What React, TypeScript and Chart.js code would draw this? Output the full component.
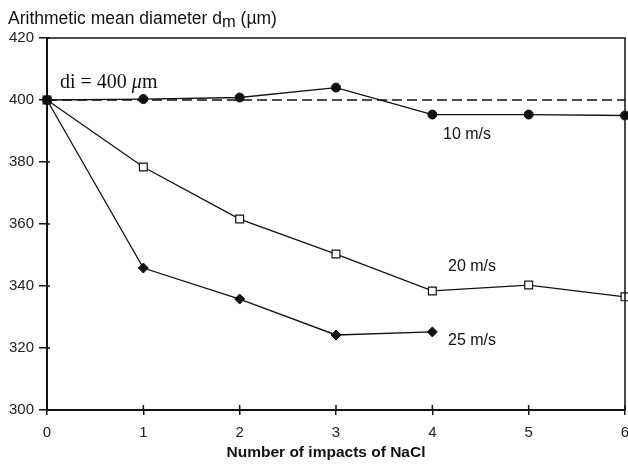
import React, { useEffect, useRef } from "react";
import { Chart, registerables } from "chart.js";

Chart.register(...registerables);

const impacts = [0, 1, 2, 3, 4, 5, 6];
const v10 = [400, 400.3, 400.8, 404, 395.3, 395.3, 395];
const v20 = [400, 378.4, 361.6, 350.3, 338.4, 340.3, 336.5];
const v25 = [400, 345.8, 335.8, 324.2, 325.2];
const diLine = [400, 400];
const diX = [0, 6];
const yTicks = [300, 320, 340, 360, 380, 400, 420];
const xTicks = [0, 1, 2, 3, 4, 5, 6];

const SANS = "'Liberation Sans', Arial, sans-serif";
const SERIF = "'Liberation Serif', 'Times New Roman', serif";

const toPts = (xs: number[], ys: number[]) => ys.map((y, i) => ({ x: xs[i], y }));

const overlay = {
  id: "overlay",
  afterDraw(chart: any) {
    const { ctx, chartArea: a, scales } = chart;
    const xs = scales.x;
    const ys = scales.y;
    ctx.save();
    ctx.strokeStyle = "#111";
    ctx.lineWidth = 1.5;
    ctx.beginPath();
    ctx.moveTo(a.left, a.top);
    ctx.lineTo(a.right, a.top);
    ctx.lineTo(a.right, a.bottom);
    ctx.stroke();
    ctx.beginPath();
    yTicks.forEach((t) => {
      const py = ys.getPixelForValue(t);
      ctx.moveTo(a.left, py);
      ctx.lineTo(a.left + 3, py);
    });
    xTicks.forEach((t) => {
      const px = xs.getPixelForValue(t);
      ctx.moveTo(px, a.bottom);
      ctx.lineTo(px, a.bottom - 5);
    });
    ctx.stroke();

    ctx.fillStyle = "#111";
    ctx.textBaseline = "alphabetic";
    ctx.textAlign = "left";
    ctx.font = `17.5px ${SANS}`;
    let x = 8;
    const base = 24;
    const t1 = "Arithmetic mean diameter d";
    ctx.fillText(t1, x, base);
    x += ctx.measureText(t1).width;
    ctx.font = `16.5px ${SANS}`;
    ctx.fillText("m", x, base + 2.5);
    x += ctx.measureText("m").width;
    ctx.font = `17.5px ${SANS}`;
    ctx.fillText(" (\u00b5m)", x, base);

    ctx.font = `bold 15.5px ${SANS}`;
    ctx.textAlign = "center";
    ctx.fillText("Number of impacts of NaCl", 326, 457);

    ctx.textAlign = "left";
    ctx.font = `20px ${SERIF}`;
    let ax = 60;
    const ab = 88;
    const p1 = "di = 400 ";
    ctx.fillText(p1, ax, ab);
    ax += ctx.measureText(p1).width;
    ctx.font = `italic 20px ${SERIF}`;
    ctx.fillText("\u03bc", ax, ab);
    ax += ctx.measureText("\u03bc").width;
    ctx.font = `20px ${SERIF}`;
    ctx.fillText("m", ax, ab);

    ctx.font = `16px ${SANS}`;
    ctx.fillText("10 m/s", 443, 139);
    ctx.fillText("20 m/s", 448, 271);
    ctx.fillText("25 m/s", 448, 345);
    ctx.restore();
  },
};

export default function App() {
  const ref = useRef<HTMLCanvasElement>(null);
  useEffect(() => {
    document.body.style.margin = "0";
    const canvas = ref.current!;
    const chart = new Chart(canvas, {
      type: "line",
      data: {
        datasets: [
          {
            label: "di",
            data: toPts(diX, diLine),
            borderColor: "#111",
            borderWidth: 1.3,
            borderDash: [10, 5],
            pointRadius: 0,
          },
          {
            label: "10 m/s",
            data: toPts(impacts, v10),
            borderColor: "#111",
            borderWidth: 1.3,
            pointStyle: "circle",
            pointRadius: 4.5,
            pointBackgroundColor: "#111",
            pointBorderColor: "#111",
            pointBorderWidth: 1,
          },
          {
            label: "20 m/s",
            data: toPts(impacts, v20),
            borderColor: "#111",
            borderWidth: 1.3,
            pointStyle: "rect",
            pointRadius: 5.5,
            pointBackgroundColor: "#fff",
            pointBorderColor: "#111",
            pointBorderWidth: 1.2,
          },
          {
            label: "25 m/s",
            data: toPts(impacts, v25),
            borderColor: "#111",
            borderWidth: 1.3,
            pointStyle: "rectRot",
            pointRadius: 5,
            pointBackgroundColor: "#111",
            pointBorderColor: "#111",
            pointBorderWidth: 1,
          },
        ],
      },
      options: {
        responsive: false,
        animation: false,
        clip: false as any,
        layout: { autoPadding: false, padding: { top: 38, right: 3, left: 0, bottom: 0 } },
        plugins: {
          legend: { display: false },
          tooltip: { enabled: false },
          title: { display: false },
        },
        scales: {
          x: {
            type: "linear",
            min: 0,
            max: 6,
            afterFit: (s: any) => {
              s.height = 54;
              s.paddingLeft = 0;
              s.paddingRight = 0;
            },
            afterBuildTicks: (s: any) => {
              s.ticks = xTicks.map((v) => ({ value: v }));
            },
            ticks: {
              color: "#222",
              padding: 9,
              maxRotation: 0,
              font: { family: SANS, size: 15 },
            },
            grid: {
              display: true,
              drawOnChartArea: false,
              drawTicks: true,
              tickLength: 5,
              color: "#111",
              lineWidth: 1.5,
            },
            border: { display: true, color: "#111", width: 2 },
          },
          y: {
            min: 300,
            max: 420,
            afterFit: (s: any) => {
              s.width = 47;
              s.paddingTop = 0;
              s.paddingBottom = 0;
            },
            afterBuildTicks: (s: any) => {
              s.ticks = yTicks.map((v) => ({ value: v }));
            },
            ticks: {
              color: "#222",
              padding: 5,
              font: { family: SANS, size: 15 },
            },
            grid: {
              display: true,
              drawOnChartArea: false,
              drawTicks: true,
              tickLength: 8,
              color: "#111",
              lineWidth: 1.5,
            },
            border: { display: true, color: "#111", width: 2 },
          },
        },
      },
      plugins: [overlay],
    });
    return () => chart.destroy();
  }, []);
  return (
    <div style={{ width: 628, height: 464 }}>
      <canvas ref={ref} width={628} height={464} style={{ display: "block" }} />
    </div>
  );
}
